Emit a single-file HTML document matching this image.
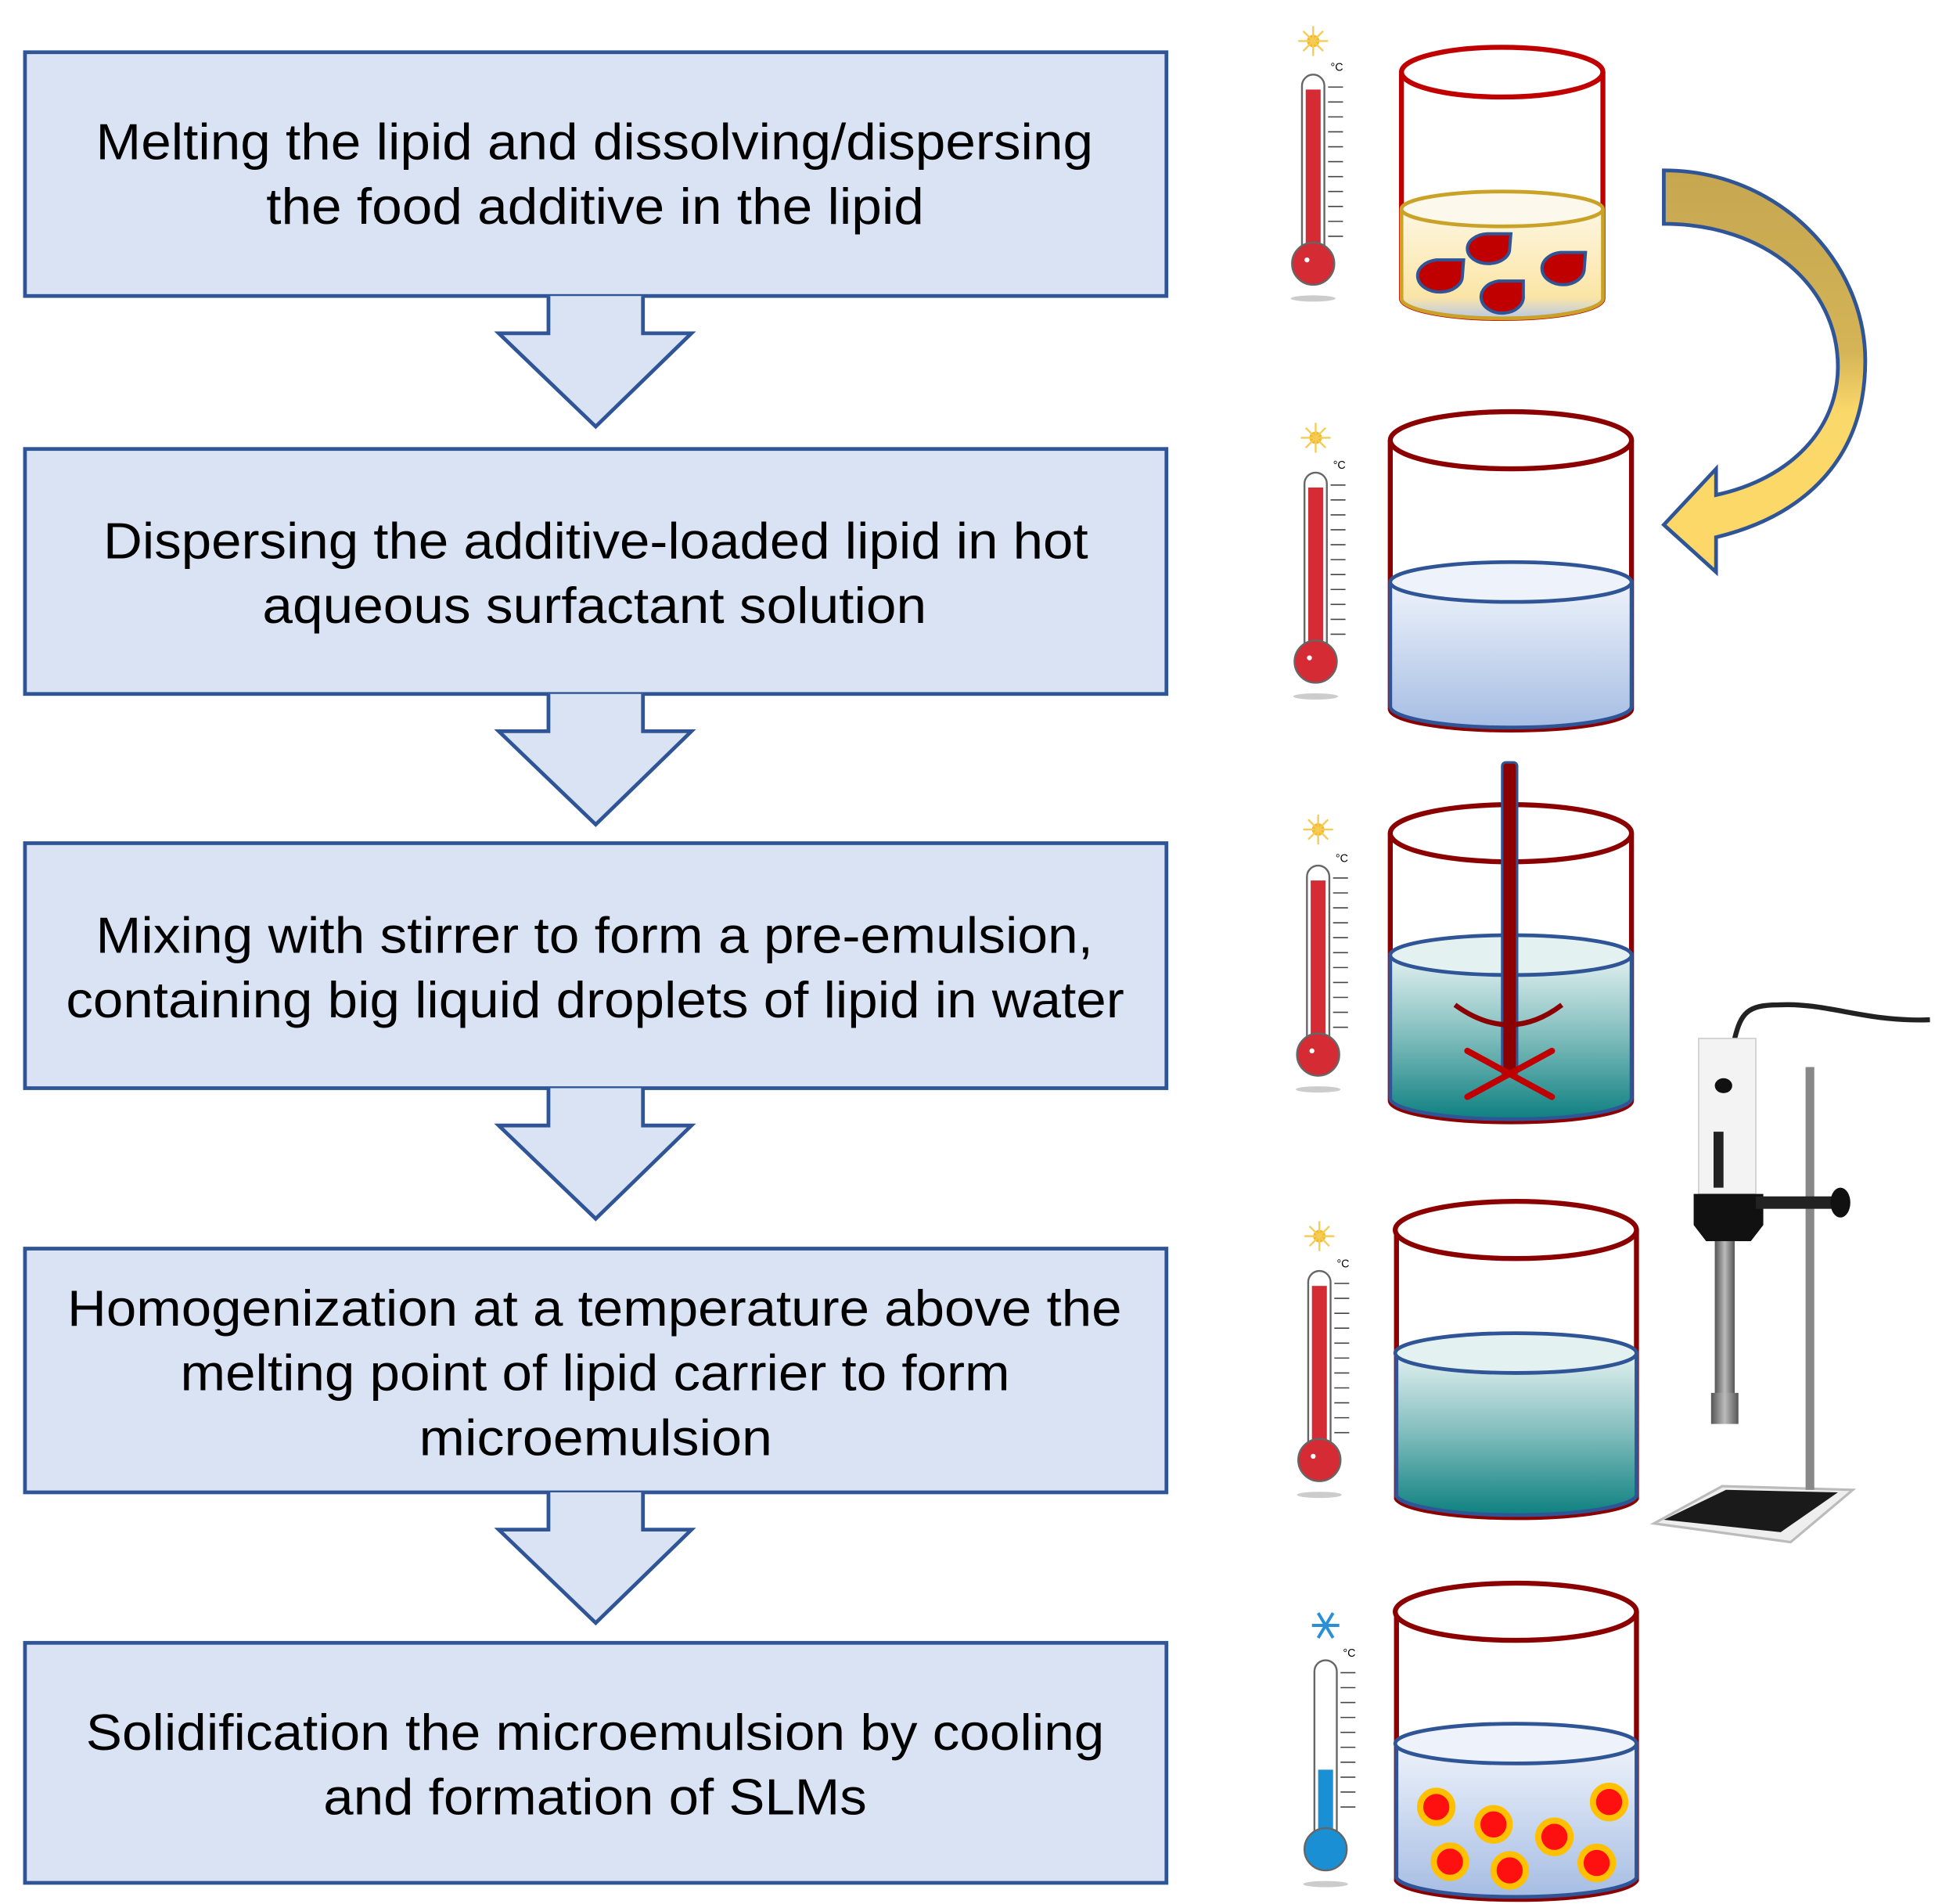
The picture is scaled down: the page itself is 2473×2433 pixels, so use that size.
<!DOCTYPE html>
<html><head><meta charset="utf-8"><style>
html,body{margin:0;padding:0;background:#fff;}
svg{display:block;}
text{font-family:"Liberation Sans",Arial,sans-serif;fill:#000;}
</style></head><body>
<svg width="2473" height="2433" viewBox="0 0 1556 1531" xmlns="http://www.w3.org/2000/svg">
<defs>
<linearGradient id="gold" x1="0" y1="0" x2="0" y2="1"><stop offset="0" stop-color="#c6a650"/><stop offset="0.45" stop-color="#d4b456"/><stop offset="0.6" stop-color="#fbd86a"/><stop offset="1" stop-color="#fdd868"/></linearGradient>
<linearGradient id="oil" x1="0" y1="0" x2="0" y2="1"><stop offset="0" stop-color="#fdf6e0"/><stop offset="0.8" stop-color="#fbe5a6"/><stop offset="1" stop-color="#b9c9e6"/></linearGradient>
<linearGradient id="blue" x1="0" y1="0" x2="0" y2="1"><stop offset="0" stop-color="#eef3fb"/><stop offset="1" stop-color="#a6bde3"/></linearGradient>
<linearGradient id="teal" x1="0" y1="0" x2="0" y2="1"><stop offset="0" stop-color="#e4f1f1"/><stop offset="0.5" stop-color="#7fbcbc"/><stop offset="1" stop-color="#0e8080"/></linearGradient>
<linearGradient id="metal" x1="0" y1="0" x2="1" y2="0"><stop offset="0" stop-color="#555"/><stop offset="0.5" stop-color="#bbb"/><stop offset="1" stop-color="#555"/></linearGradient>
<g id="thermo">
 <rect x="-9" y="0" width="18" height="150" rx="9" fill="#fff" stroke="#666" stroke-width="1.5"/>
 <rect x="-6" y="12" width="12" height="140" fill="#d52b34"/>
 <circle cx="0" cy="152" r="17" fill="#d52b34" stroke="#666" stroke-width="1.5"/>
 <circle cx="-5" cy="149" r="2" fill="#fff"/>
 <ellipse cx="0" cy="180" rx="18" ry="2.5" fill="#ccc"/>
 <g stroke="#444" stroke-width="1">
  <line x1="12" y1="10" x2="24" y2="10"/><line x1="12" y1="22" x2="24" y2="22"/><line x1="12" y1="34" x2="24" y2="34"/><line x1="12" y1="46" x2="24" y2="46"/><line x1="12" y1="58" x2="24" y2="58"/><line x1="12" y1="70" x2="24" y2="70"/><line x1="12" y1="82" x2="24" y2="82"/><line x1="12" y1="94" x2="24" y2="94"/><line x1="12" y1="106" x2="24" y2="106"/><line x1="12" y1="118" x2="24" y2="118"/><line x1="12" y1="130" x2="24" y2="130"/>
 </g>
 <text x="14" y="-3" style="font-size:9px">°C</text>
</g>
<g id="sun"><circle r="5" fill="#f5b82a"/><g stroke="#f5cc55" stroke-width="1.5"><line x1="-12" y1="0" x2="12" y2="0"/><line x1="0" y1="-12" x2="0" y2="12"/><line x1="-8" y1="-8" x2="8" y2="8"/><line x1="-8" y1="8" x2="8" y2="-8"/></g></g>
</defs>

<g fill="#dae3f3" stroke="#2f5597" stroke-width="3">
<rect x="20" y="42" width="918" height="196"/>
<rect x="20" y="361" width="918" height="197"/>
<rect x="20" y="678" width="918" height="197"/>
<rect x="20" y="1004" width="918" height="196"/>
<rect x="20" y="1321" width="918" height="193"/>
<path d="M441,238 L441,268 L401,268 L479,343 L556,268 L517,268 L517,238"/>
<path d="M441,558 L441,588 L401,588 L479,663 L556,588 L517,588 L517,558"/>
<path d="M441,875 L441,905 L401,905 L479,980 L556,905 L517,905 L517,875"/>
<path d="M441,1200 L441,1230 L401,1230 L479,1305 L556,1230 L517,1230 L517,1200"/>
</g>
<g style="font-size:41px" lengthAdjust="spacingAndGlyphs">
<text x="77" y="128" textLength="802" lengthAdjust="spacingAndGlyphs">Melting the lipid and dissolving/dispersing</text>
<text x="214" y="180" textLength="529" lengthAdjust="spacingAndGlyphs">the food additive in the lipid</text>
<text x="83" y="449" textLength="792" lengthAdjust="spacingAndGlyphs">Dispersing the additive-loaded lipid in hot</text>
<text x="211" y="501" textLength="534" lengthAdjust="spacingAndGlyphs">aqueous surfactant solution</text>
<text x="77" y="766" textLength="802" lengthAdjust="spacingAndGlyphs">Mixing with stirrer to form a pre-emulsion,</text>
<text x="53" y="818" textLength="851" lengthAdjust="spacingAndGlyphs">containing big liquid droplets of lipid in water</text>
<text x="54" y="1066" textLength="848" lengthAdjust="spacingAndGlyphs">Homogenization at a temperature above the</text>
<text x="145" y="1118" textLength="667" lengthAdjust="spacingAndGlyphs">melting point of lipid carrier to form</text>
<text x="337" y="1170" textLength="284" lengthAdjust="spacingAndGlyphs">microemulsion</text>
<text x="69" y="1407" textLength="819" lengthAdjust="spacingAndGlyphs">Solidification the microemulsion by cooling</text>
<text x="260" y="1459" textLength="437" lengthAdjust="spacingAndGlyphs">and formation of SLMs</text>
</g>

<use href="#sun" x="1056" y="33"/><use href="#thermo" x="1056" y="60"/>
<use href="#sun" x="1058" y="352"/><use href="#thermo" x="1058" y="380"/>
<use href="#sun" x="1060" y="667"/><use href="#thermo" x="1060" y="696"/>
<use href="#sun" x="1061" y="994"/><use href="#thermo" x="1061" y="1022"/>
<g transform="translate(1066,1335)">
 <rect x="-9" y="0" width="18" height="150" rx="9" fill="#fff" stroke="#666" stroke-width="1.5"/>
 <rect x="-6" y="88" width="12" height="64" fill="#1a8fd4"/>
 <circle cx="0" cy="152" r="17" fill="#1a8fd4" stroke="#666" stroke-width="1.5"/>
 <ellipse cx="0" cy="180" rx="18" ry="2.5" fill="#ccc"/>
 <g stroke="#444" stroke-width="1"><line x1="12" y1="10" x2="24" y2="10"/><line x1="12" y1="22" x2="24" y2="22"/><line x1="12" y1="34" x2="24" y2="34"/><line x1="12" y1="46" x2="24" y2="46"/><line x1="12" y1="58" x2="24" y2="58"/><line x1="12" y1="70" x2="24" y2="70"/><line x1="12" y1="82" x2="24" y2="82"/><line x1="12" y1="94" x2="24" y2="94"/><line x1="12" y1="106" x2="24" y2="106"/><line x1="12" y1="118" x2="24" y2="118"/></g>
 <text x="14" y="-3" style="font-size:9px">°C</text>
 <g transform="translate(0,-28)" stroke="#2a8fd6" stroke-width="2.5"><line x1="-11" y1="0" x2="11" y2="0"/><line x1="-6" y1="-10" x2="6" y2="10"/><line x1="-6" y1="10" x2="6" y2="-10"/></g>
</g>

<path d="M1127,58 L1127,240 A81,16 0 0 0 1289,240 L1289,58" fill="none" stroke="#c00000" stroke-width="4"/>
<path d="M1127,170 L1127,240 A81,16 0 0 0 1289,240 L1289,170 Z" fill="url(#oil)" stroke="#c9a227" stroke-width="3"/>
<ellipse cx="1208" cy="168" rx="81" ry="14" fill="#fdf8ec" stroke="#c9a227" stroke-width="3"/>
<ellipse cx="1208" cy="58" rx="81" ry="20" fill="#fff" stroke="#c00000" stroke-width="4"/>
<g fill="#c00000" stroke="#2f5597" stroke-width="2.5">
<path d="M1177,209 L1155,209 A18,13 0 1 0 1176,222 Z"/>
<path d="M1215,188 L1196,188 A17,12 0 1 0 1214,200 Z"/>
<path d="M1225,226 L1205,226 A17,13 0 1 0 1225,238 Z"/>
<path d="M1275,203 L1255,203 A17,13 0 1 0 1274,216 Z"/>
</g>

<path d="M1338,137 C1430,137 1500,210 1500,290 C1500,370 1450,415 1380,432 L1380,460 L1338,422 L1380,377 L1380,398 C1440,385 1478,345 1478,295 C1478,230 1420,180 1338,180 Z" fill="url(#gold)" stroke="#2f5597" stroke-width="3"/>

<path d="M1118,354 L1118,570 A97,17 0 0 0 1312,570 L1312,354" fill="none" stroke="#8b0000" stroke-width="4"/>
<path d="M1118,468 L1118,568 A97,17 0 0 0 1312,568 L1312,468 Z" fill="url(#blue)" stroke="#2f5597" stroke-width="3"/>
<ellipse cx="1215" cy="468" rx="97" ry="16" fill="#eef3fb" stroke="#2f5597" stroke-width="3"/>
<ellipse cx="1215" cy="354" rx="97" ry="23" fill="#fff" stroke="#8b0000" stroke-width="4"/>

<path d="M1118,670 L1118,885 A97,17 0 0 0 1312,885 L1312,670" fill="none" stroke="#8b0000" stroke-width="4"/>
<path d="M1118,768 L1118,883 A97,17 0 0 0 1312,883 L1312,768 Z" fill="url(#teal)" stroke="#2f5597" stroke-width="3"/>
<ellipse cx="1215" cy="768" rx="97" ry="16" fill="#e4f1f1" stroke="#2f5597" stroke-width="3"/>
<ellipse cx="1215" cy="670" rx="97" ry="23" fill="none" stroke="#8b0000" stroke-width="4"/>
<rect x="1208" y="613" width="12" height="252" rx="3" fill="#8b0000" stroke="#2f5597" stroke-width="2"/>
<g stroke="#c00000" stroke-width="5" stroke-linecap="round"><line x1="1180" y1="845" x2="1248" y2="882"/><line x1="1180" y1="882" x2="1248" y2="845"/></g>
<path d="M1170,808 Q1214,840 1256,808" fill="none" stroke="#8b0000" stroke-width="4"/>

<path d="M1123,989 L1123,1205 A97,17 0 0 0 1316,1205 L1316,989" fill="none" stroke="#8b0000" stroke-width="4"/>
<path d="M1123,1088 L1123,1203 A97,17 0 0 0 1316,1203 L1316,1088 Z" fill="url(#teal)" stroke="#2f5597" stroke-width="3"/>
<ellipse cx="1219" cy="1088" rx="97" ry="16" fill="#e4f1f1" stroke="#2f5597" stroke-width="3"/>
<ellipse cx="1219" cy="989" rx="97" ry="23" fill="#fff" stroke="#8b0000" stroke-width="4"/>

<path d="M1123,1296 L1123,1512 A97,17 0 0 0 1316,1512 L1316,1296" fill="none" stroke="#8b0000" stroke-width="4"/>
<path d="M1123,1402 L1123,1510 A97,17 0 0 0 1316,1510 L1316,1402 Z" fill="url(#blue)" stroke="#2f5597" stroke-width="3"/>
<ellipse cx="1219" cy="1402" rx="97" ry="16" fill="#eef3fb" stroke="#2f5597" stroke-width="3"/>
<ellipse cx="1219" cy="1296" rx="97" ry="23" fill="#fff" stroke="#8b0000" stroke-width="4"/>
<g fill="#ff1010" stroke="#ffc000" stroke-width="5">
<circle cx="1155" cy="1453" r="13"/><circle cx="1201" cy="1467" r="13"/><circle cx="1250" cy="1477" r="13"/><circle cx="1294" cy="1449" r="13"/><circle cx="1166" cy="1497" r="13"/><circle cx="1214" cy="1504" r="13"/><circle cx="1284" cy="1498" r="13"/>
</g>

<path d="M1395,835 C1400,815 1405,808 1430,808 C1470,806 1500,822 1552,820" fill="none" stroke="#222" stroke-width="4"/>
<path d="M1330,1225 L1385,1195 L1490,1198 L1440,1240 Z" fill="#eee" stroke="#bbb" stroke-width="2"/>
<path d="M1338,1222 L1388,1198 L1478,1200 L1432,1232 Z" fill="#1a1a1a"/>
<rect x="1452" y="858" width="7" height="340" fill="#888"/>
<rect x="1366" y="835" width="46" height="125" fill="#f3f3f3" stroke="#ccc" stroke-width="1"/>
<ellipse cx="1386" cy="873" rx="7" ry="6" fill="#111"/>
<rect x="1378" y="910" width="8" height="45" fill="#222"/>
<path d="M1362,960 L1418,960 L1418,985 L1408,998 L1372,998 L1362,985 Z" fill="#111"/>
<rect x="1412" y="962" width="68" height="10" fill="#222"/>
<ellipse cx="1480" cy="967" rx="8" ry="12" fill="#111"/>
<rect x="1379" y="998" width="16" height="140" fill="url(#metal)"/>
<rect x="1376" y="1120" width="22" height="25" fill="url(#metal)"/>
</svg>
</body></html>
